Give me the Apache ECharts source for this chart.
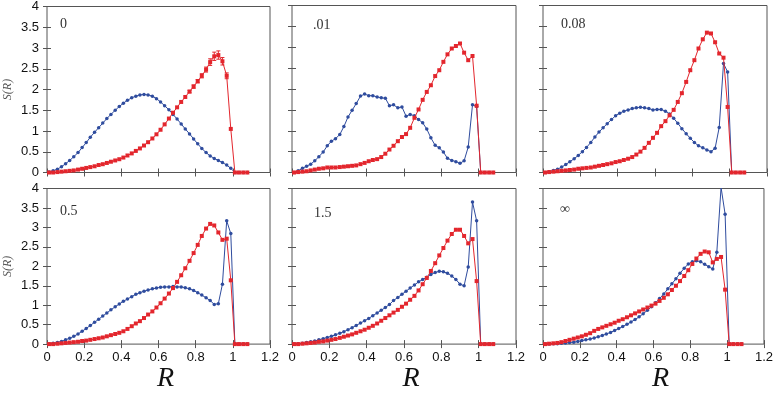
<!DOCTYPE html>
<html>
<head>
<meta charset="utf-8">
<script src="https://cdn.jsdelivr.net/npm/echarts@6/dist/echarts.min.js"></script>
<style>
  html, body { margin: 0; padding: 0; background: #fff; }
  #chart { width: 776px; height: 394px; }
</style>
</head>
<body>
<div id="chart"></div>
<script>
// bin centres, shared by every panel
const rVals = [0.011, 0.033, 0.056, 0.078, 0.1, 0.122, 0.144, 0.167, 0.189, 0.211,
  0.233, 0.256, 0.278, 0.3, 0.322, 0.344, 0.367, 0.389, 0.411, 0.433,
  0.456, 0.478, 0.5, 0.522, 0.544, 0.567, 0.589, 0.611, 0.633, 0.656,
  0.678, 0.7, 0.722, 0.744, 0.767, 0.789, 0.811, 0.833, 0.856, 0.878,
  0.9, 0.922, 0.944, 0.967, 0.989, 1.011, 1.033, 1.056, 1.078];

const panelLabels = ["0", ".01", "0.08", "0.5", "1.5", "\u221e"];

// panel "0"
const p1Blue = [0.01,0.04,0.08,0.14,0.21,0.29,0.38,0.48,0.6,0.72,0.85,0.97,1.08,1.19,1.3,1.4,1.5,1.59,1.67,1.74,1.8,1.84,1.87,1.88,1.87,1.84,1.78,1.7,1.61,1.51,1.4,1.29,1.17,1.05,0.93,0.81,0.69,0.58,0.48,0.4,0.34,0.29,0.24,0.18,0.1,0,0,0,0];
const p1Red = [0,0,0.01,0.02,0.03,0.04,0.05,0.07,0.09,0.11,0.13,0.15,0.18,0.2,0.23,0.26,0.29,0.32,0.36,0.41,0.46,0.52,0.58,0.65,0.73,0.82,0.92,1.03,1.16,1.3,1.44,1.57,1.7,1.82,1.95,2.07,2.2,2.33,2.48,2.66,2.8,2.83,2.68,2.33,1.05,0,0,0,0];
// error bars of the red curve, bins 34..43
const p1RedErrStart = 34;
const p1RedErr = [0.03,0.04,0.04,0.05,0.06,0.08,0.1,0.1,0.09,0.07];

// panel ".01"
const p2Blue = [0,0.04,0.1,0.15,0.2,0.28,0.38,0.49,0.64,0.75,0.81,0.91,1.1,1.33,1.49,1.65,1.83,1.88,1.84,1.84,1.81,1.79,1.78,1.6,1.62,1.55,1.57,1.35,1.39,1.36,1.27,1.19,1.04,0.83,0.65,0.59,0.49,0.34,0.29,0.26,0.22,0.28,0.61,1.62,1.58,0,0,0,0];
const p2Red = [0,0.01,0.02,0.03,0.05,0.07,0.09,0.1,0.12,0.12,0.12,0.13,0.14,0.15,0.16,0.17,0.2,0.23,0.27,0.3,0.32,0.37,0.45,0.55,0.64,0.75,0.85,0.92,1.07,1.31,1.51,1.74,1.93,2.09,2.31,2.45,2.65,2.83,2.97,3.03,3.09,2.87,2.69,2.79,1.6,0,0,0,0];

// panel "0.08"
const p3Blue = [0,0.02,0.05,0.08,0.13,0.19,0.26,0.33,0.41,0.5,0.6,0.72,0.85,0.97,1.07,1.17,1.27,1.36,1.42,1.47,1.5,1.53,1.55,1.56,1.55,1.53,1.5,1.51,1.51,1.47,1.4,1.3,1.18,1.05,0.93,0.82,0.72,0.64,0.59,0.54,0.5,0.58,1.08,2.61,2.41,0,0,0,0];
const p3Red = [0,0.01,0.02,0.03,0.04,0.05,0.06,0.07,0.09,0.1,0.11,0.12,0.14,0.16,0.18,0.2,0.22,0.25,0.27,0.3,0.33,0.37,0.43,0.5,0.59,0.71,0.83,0.95,1.11,1.23,1.37,1.5,1.69,1.9,2.17,2.45,2.69,2.97,3.19,3.35,3.33,3.12,2.85,2.75,1.57,0,0,0,0];

// panel "0.5"
const p4Blue = [0,0.02,0.04,0.07,0.11,0.15,0.2,0.26,0.33,0.4,0.48,0.56,0.64,0.72,0.8,0.88,0.96,1.03,1.1,1.16,1.22,1.28,1.32,1.36,1.39,1.42,1.44,1.46,1.47,1.47,1.48,1.47,1.47,1.45,1.42,1.38,1.32,1.26,1.19,1.12,1.02,1.04,1.54,3.17,2.84,0,0,0,0];
const p4Red = [0,0,0.01,0.02,0.03,0.04,0.05,0.06,0.08,0.09,0.11,0.13,0.15,0.17,0.2,0.23,0.26,0.29,0.33,0.39,0.46,0.53,0.59,0.67,0.76,0.84,0.94,1.05,1.17,1.3,1.44,1.6,1.77,1.95,2.14,2.34,2.55,2.78,2.97,3.09,3.05,2.87,2.68,2.71,1.64,0,0,0,0];

// panel "1.5"
const p5Blue = [0,0.01,0.02,0.04,0.06,0.08,0.11,0.14,0.17,0.2,0.24,0.28,0.32,0.37,0.42,0.48,0.54,0.6,0.66,0.73,0.8,0.87,0.94,1.02,1.12,1.2,1.28,1.36,1.44,1.52,1.6,1.66,1.72,1.79,1.84,1.87,1.86,1.82,1.75,1.66,1.54,1.5,1.98,3.65,3.17,0,0,0,0];
const p5Red = [0,0,0.01,0.02,0.03,0.04,0.06,0.07,0.09,0.11,0.13,0.16,0.19,0.22,0.25,0.29,0.33,0.37,0.42,0.47,0.53,0.6,0.67,0.74,0.81,0.88,0.96,1.04,1.14,1.24,1.38,1.54,1.7,1.88,2.08,2.28,2.47,2.66,2.83,2.94,2.94,2.78,2.59,2.7,1.62,0,0,0,0];

// panel "inf"
const p6Blue = [0,0,0.01,0.01,0.02,0.03,0.04,0.05,0.07,0.09,0.11,0.13,0.16,0.19,0.22,0.26,0.3,0.35,0.4,0.45,0.51,0.57,0.63,0.7,0.78,0.87,0.96,1.06,1.17,1.29,1.42,1.55,1.68,1.82,1.95,2.06,2.12,2.14,2.12,2.05,1.99,1.93,2.36,4.03,3.34,0,0,0,0];
const p6Red = [0,0.01,0.02,0.03,0.05,0.08,0.11,0.14,0.17,0.2,0.24,0.28,0.34,0.39,0.43,0.47,0.51,0.55,0.6,0.64,0.69,0.74,0.79,0.84,0.89,0.94,0.99,1.04,1.11,1.19,1.28,1.39,1.5,1.62,1.75,1.9,2.06,2.2,2.32,2.38,2.36,2.1,2.19,2.24,1.4,0,0,0,0];

const blueSets = [p1Blue, p2Blue, p3Blue, p4Blue, p5Blue, p6Blue];
const redSets = [p1Red, p2Red, p3Red, p4Red, p5Red, p6Red];

const BLUE = "#2f4c9e";
const RED = "#e3262d";
const FRAME = "#555";

// panel rectangles, row by row
const panels = [
  { left: 47, top: 5.5, width: 223, height: 167 },
  { left: 292, top: 5.5, width: 224, height: 167 },
  { left: 543, top: 5.5, width: 224, height: 167 },
  { left: 47, top: 188.5, width: 223, height: 167.5 },
  { left: 292, top: 188.5, width: 224, height: 167.5 },
  { left: 543, top: 188.5, width: 224, height: 167.5 },
];
const labelPos = [[60, 17], [313, 18], [561, 17], [60, 204], [314, 206], [560, 202]];

const chart = echarts.init(document.getElementById("chart"), null, { renderer: "canvas" });

const tickStyle = { show: true, inside: true, length: 4, lineStyle: { color: FRAME, width: 1 } };
const labelFont = { fontFamily: "Liberation Sans", fontSize: 13, color: "#111" };

const xAxes = [];
const yAxes = [];
panels.forEach((p, i) => {
  const bottomRow = i >= 3;
  const leftCol = i % 3 === 0;
  xAxes.push({
    gridIndex: i, type: "value", min: 0, max: 1.2, interval: 0.2,
    axisLine: { show: false }, axisTick: tickStyle, splitLine: { show: false },
    axisLabel: { show: bottomRow, margin: 7, showMinLabel: true, showMaxLabel: true, ...labelFont },
    name: bottomRow ? "R" : "",
    nameLocation: "middle", nameGap: 12,
    nameTextStyle: {
      fontFamily: "Liberation Serif", fontStyle: "italic", fontSize: 28,
      color: "#111", verticalAlign: "top", padding: [0, 0, 0, 14],
    },
  });
  xAxes.push({
    gridIndex: i, type: "value", position: "top", min: 0, max: 1.2, interval: 0.2,
    axisLine: { show: false }, axisTick: tickStyle, splitLine: { show: false },
    axisLabel: { show: false },
  });
  yAxes.push({
    gridIndex: i, type: "value", min: 0, max: 4, interval: 0.5,
    axisLine: { show: false }, axisTick: tickStyle, splitLine: { show: false },
    axisLabel: { show: leftCol, margin: 8, showMinLabel: true, showMaxLabel: true, ...labelFont },
    name: leftCol ? "S(R)" : "",
    nameLocation: "middle", nameGap: 33,
    nameTextStyle: { fontFamily: "Liberation Serif", fontStyle: "italic", fontSize: 12, color: "#555" },
  });
  yAxes.push({
    gridIndex: i, type: "value", position: "right", min: 0, max: 4, interval: 0.5,
    axisLine: { show: false }, axisTick: tickStyle, splitLine: { show: false },
    axisLabel: { show: false },
  });
});

const series = [];
panels.forEach((p, i) => {
  series.push({
    type: "line",
    xAxisIndex: 2 * i, yAxisIndex: 2 * i,
    data: rVals.map((r, k) => [r, blueSets[i][k]]),
    symbol: "circle", symbolSize: 3.5, showSymbol: true,
    lineStyle: { color: BLUE, width: 1 }, itemStyle: { color: BLUE },
    clip: true, z: 2,
  });
  series.push({
    type: "line",
    xAxisIndex: 2 * i, yAxisIndex: 2 * i,
    data: rVals.map((r, k) => [r, redSets[i][k]]),
    symbol: "rect", symbolSize: 4, showSymbol: true,
    lineStyle: { color: RED, width: 1 }, itemStyle: { color: RED },
    clip: true, z: 3,
  });
});

// error bars on the first panel
series.push({
  type: "custom",
  xAxisIndex: 0, yAxisIndex: 0,
  data: p1RedErr.map((e, j) => [rVals[p1RedErrStart + j], p1Red[p1RedErrStart + j], e]),
  encode: { x: 0, y: 1 },
  z: 4,
  renderItem: (params, api) => {
    const x = api.value(0), y = api.value(1), e = api.value(2);
    const hi = api.coord([x, y + e]);
    const lo = api.coord([x, y - e]);
    const st = { stroke: RED, lineWidth: 1 };
    return {
      type: "group",
      children: [
        { type: "line", shape: { x1: hi[0], y1: hi[1], x2: lo[0], y2: lo[1] }, style: st },
        { type: "line", shape: { x1: hi[0] - 2, y1: hi[1], x2: hi[0] + 2, y2: hi[1] }, style: st },
        { type: "line", shape: { x1: lo[0] - 2, y1: lo[1], x2: lo[0] + 2, y2: lo[1] }, style: st },
      ],
    };
  },
});

const option = {
  animation: false,
  backgroundColor: "#fff",
  title: panelLabels.map((t, i) => ({
    text: t, left: labelPos[i][0], top: labelPos[i][1], padding: 0,
    textStyle: { fontFamily: "Liberation Serif", fontSize: 14, fontWeight: "normal", color: "#333" },
  })),
  grid: panels.map((p) => ({ ...p, show: true, borderColor: FRAME, borderWidth: 1, backgroundColor: "transparent" })),
  xAxis: xAxes,
  yAxis: yAxes,
  series: series,
};

chart.setOption(option);
</script>
</body>
</html>
